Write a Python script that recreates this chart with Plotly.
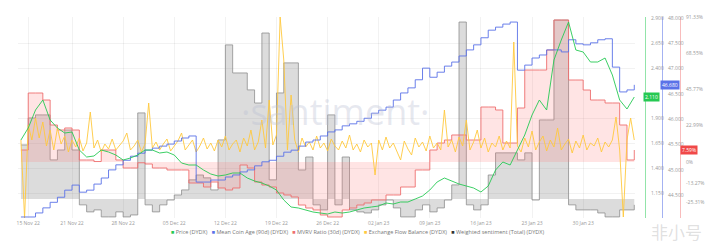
import pandas as pd
import plotly.graph_objects as go

# ---------------- data ----------------
days = pd.date_range("2022-11-14", periods=85, freq="D")
half_days = pd.date_range("2022-11-14", periods=169, freq="12h")

price = [1.68, 1.80, 1.98, 2.08, 1.88, 1.80, 1.75, 1.76, 1.58, 1.51,
         1.52, 1.58, 1.56, 1.53, 1.48, 1.50, 1.53, 1.58, 1.58, 1.55,
         1.56, 1.53, 1.45, 1.43, 1.43, 1.38, 1.34, 1.32, 1.33, 1.35,
         1.35, 1.30, 1.27, 1.25, 1.22, 1.18, 1.08, 1.01, 1.00, 0.98,
         0.96, 0.95, 0.94, 0.96, 0.95, 0.96, 0.98, 1.00, 1.01, 1.02,
         1.05, 1.04, 1.06, 1.06, 1.09, 1.12, 1.18, 1.26, 1.30, 1.27,
         1.24, 1.22, 1.20, 1.16, 1.22, 1.38, 1.46, 1.43, 1.58, 1.73,
         1.93, 2.08, 1.98, 2.48, 2.68, 2.86, 2.58, 2.56, 2.46, 2.46,
         2.50, 2.33, 2.08, 1.99, 2.11]

coin_age = [44.07, 44.07, 44.15, 44.25, 44.36, 44.46, 44.60, 44.70, 44.56, 44.60,
            44.72, 44.84, 45.00, 45.10, 45.19, 45.27, 45.33, 45.39, 45.43, 45.47,
            45.51, 45.57, 45.63, 45.67, 44.76, 44.76, 44.80, 44.80, 44.86, 44.90,
            44.96, 45.00, 45.08, 45.16, 45.19, 45.27, 45.35, 45.39, 45.47, 45.55,
            45.59, 45.67, 45.75, 45.79, 45.87, 45.91, 45.96, 46.02, 46.12, 46.18,
            46.24, 46.38, 46.52, 46.62, 46.78, 47.01, 46.83, 46.93, 47.05, 47.13,
            47.25, 47.37, 47.47, 47.61, 47.76, 47.82, 47.88, 47.92, 46.97, 47.07,
            47.21, 47.27, 47.37, 47.37, 47.33, 47.57, 47.49, 47.47, 47.51, 47.57,
            47.59, 47.03, 46.54, 46.58, 46.68]

mvrv = [7.59, 43.66, 43.66, 39.23, 23.41, 20.25, 21.52, 20.25, 1.27, 1.27,
        0.30, 7.59, 7.59, 1.27, -3.80, -3.80, -0.50, -1.27, -3.80, -3.80,
        -5.06, -5.06, -5.06, -13.29, -13.29, -15.82, -12.66, -16.45, -17.72, -16.45,
        -1.90, -3.80, -12.66, -14.55, -15.82, -19.62, -20.88, -22.15, -27.21, -29.11,
        -30.37, -33.54, -34.80, -34.80, -30.37, -29.11, -27.21, -25.94, -24.05, -24.05,
        -20.88, -20.88, -15.82, -15.82, -5.06, -5.06, 7.59, 12.02, 13.92, 17.09,
        17.09, 13.92, 13.92, 34.80, 34.80, 32.91, 12.02, 12.02, 34.17, 58.22,
        58.22, 58.22, 70.87, 89.86, 89.86, 51.89, 51.89, 45.56, 39.23, 39.23,
        37.34, 37.34, 23.41, 1.27, 7.59]

sentiment = [3.00, 4.50, 4.67, 4.67, 2.17, 2.72, 3.83, 2.72, -0.33, -0.72,
             -0.61, -1.00, -1.00, -0.72, -1.00, -0.89, 4.78, -0.33, -0.72, -0.33,
             -0.06, 0.22, 0.50, 1.06, 1.33, 1.17, 0.50, 3.28, 8.56, 7.00,
             7.00, 6.06, 5.33, 9.22, 1.06, 5.89, 7.56, 7.56, 1.61, 2.33,
             -0.33, -0.61, 4.67, -0.33, 2.33, -0.61, -0.72, -0.78, -0.61, -0.33,
             -0.06, -0.50, -1.00, -1.00, -0.61, -0.33, -0.72, -0.50, -0.06, 0.78,
             9.83, -0.33, -0.61, -0.33, 1.33, 2.56, 2.56, 2.56, 2.17, 2.56,
             -0.06, 4.39, 4.39, 9.94, 9.94, -0.33, -0.61, -0.61, -0.61, -0.78,
             -1.00, -1.00, -0.61, -0.61, -0.33]

# exchange flow balance, thousand DYDX, every 12 hours
flow = [60, -720, 210, 60, 280, 80, 240, 0, 160, -40,
        180, 20, 100, -60, 60, -10, 80, -50, 30, 340,
        -20, 60, -60, 20, -30, 70, -40, 10, 50, 130,
        -40, 0, 60, -60, 20, 430, -20, 40, -40, 20,
        70, -50, 0, 50, 130, -40, 10, 60, -60, 0,
        80, -30, 30, -50, 60, -10, 100, -40, 20, 60,
        -60, 80, 0, 160, -40, 40, 260, -20, 460, 10,
        110, 1290, 860, -40, 510, 60, -60, 80, -10, 40,
        -40, 100, -20, 30, -50, 70, 0, -40, 50, -20,
        110, -40, 20, -60, 60, -10, 30, -290, 60, -40,
        90, -20, 30, -60, -140, 50, -30, -90, 80, -10,
        40, -50, 100, -20, 30, -40, 360, -10, 60, -60,
        90, 0, 260, -40, 40, 160, -20, 80, -60, 30,
        -10, 100, -40, 50, -20, 1040, 0, -60, 80, -10,
        150, -40, 40, 100, -50, 60, -10, 180, -40, 20,
        70, -70, 50, -20, 110, -40, 30, 0, 80, -60,
        40, -10, 60, 290, -40, -710, 60, 280, 60]

tick_dates = ["2022-11-15", "2022-11-21", "2022-11-28", "2022-12-05", "2022-12-12",
              "2022-12-19", "2022-12-26", "2023-01-02", "2023-01-09", "2023-01-16",
              "2023-01-23", "2023-01-30"]
tick_labels = ["15 Nov 22", "21 Nov 22", "28 Nov 22", "05 Dec 22", "12 Dec 22",
               "19 Dec 22", "26 Dec 22", "02 Jan 23", "09 Jan 23", "16 Jan 23",
               "23 Jan 23", "30 Jan 23"]

price_ticks = [1.15, 1.40, 1.65, 1.90, 2.40, 2.65, 2.90]
age_ticks = [44.5, 45.0, 45.5, 46.0, 46.5, 47.0, 47.5, 48.0]
mvrv_ticks = [91.33, 68.55, 45.77, 22.99, 0, -13.27, -25.31]

series_names = ["Price (DYDX)", "Mean Coin Age (90d) (DYDX)", "MVRV Ratio (30d) (DYDX)",
                "Exchange Flow Balance (DYDX)", "Weighted sentiment (Total) (DYDX)"]

# ---------------- style ----------------
C_PRICE = "#26c953"
C_AGE = "#5a72e8"
C_MVRV = "#ee6f6f"
C_FLOW = "#ffc83d"
C_SENT = "#8e8e8e"
FONT = "Open Sans"

fig = go.Figure()

fig.add_trace(go.Scatter(x=days, y=sentiment, yaxis="y", mode="lines", line_shape="hv",
                         line=dict(color=C_SENT, width=0.8), fill="tozeroy",
                         fillcolor="rgba(130,130,130,0.28)", name=series_names[4], showlegend=False))
fig.add_trace(go.Scatter(x=days, y=mvrv, yaxis="y2", mode="lines", line_shape="hv",
                         line=dict(color=C_MVRV, width=0.9), fill="tozeroy",
                         fillcolor="rgba(255,120,120,0.20)", name=series_names[2], showlegend=False))
fig.add_trace(go.Scatter(x=half_days, y=flow, yaxis="y3", mode="lines",
                         line=dict(color=C_FLOW, width=0.9), name=series_names[3], showlegend=False))
fig.add_trace(go.Scatter(x=days, y=coin_age, yaxis="y4", mode="lines", line_shape="hv",
                         line=dict(color=C_AGE, width=0.9), name=series_names[1], showlegend=False))
fig.add_trace(go.Scatter(x=days, y=price, yaxis="y5", mode="lines",
                         line=dict(color=C_PRICE, width=0.9), name=series_names[0], showlegend=False))

W, H = 718, 245
L_PX, R_PX, T_PX, B_PX = 18, 635, 17, 218
x_dom = [L_PX / W, R_PX / W]

tickfont = dict(family=FONT, size=5, color="#9a9a9a")

fig.update_layout(
    width=W, height=H,
    margin=dict(l=0, r=0, t=T_PX, b=H - B_PX),
    paper_bgcolor="white", plot_bgcolor="white",
    showlegend=False,
    font=dict(family=FONT),
    xaxis=dict(domain=x_dom, type="date",
               range=["2022-11-13 14:24", "2023-02-06 02:24"],
               tickvals=tick_dates, ticktext=tick_labels, tickfont=tickfont,
               ticks="", showgrid=True, gridcolor="rgba(0,0,0,0.05)", gridwidth=1,
               showline=False, zeroline=False, ticklabelstandoff=1),
    yaxis=dict(range=[-1.06, 10.11], visible=False, showgrid=False, zeroline=False),
    yaxis2=dict(range=[-35.44, 91.76], overlaying="y", side="right", anchor="free",
                position=680 / W, showline=True, linecolor="rgba(240,106,106,0.45)", linewidth=1,
                tickvals=mvrv_ticks, ticktext=[f"{v:g}%" if v == 0 else f"{v:.2f}%" for v in mvrv_ticks],
                tickfont=tickfont, ticks="", showgrid=False, zeroline=False, ticklabelstandoff=4),
    yaxis3=dict(range=[-720, 1290], overlaying="y", visible=False, showgrid=False, zeroline=False),
    yaxis4=dict(range=[44.05, 48.02], overlaying="y", side="right", anchor="free",
                position=662 / W, showline=True, linecolor="rgba(90,114,232,0.55)", linewidth=1,
                tickvals=age_ticks, ticktext=[f"{v:.3f}" for v in age_ticks],
                tickfont=tickfont, ticks="", showgrid=False, zeroline=False, ticklabelstandoff=4),
    yaxis5=dict(range=[0.90, 2.91], overlaying="y", side="right", anchor="free",
                position=645 / W, showline=True, linecolor="rgba(38,201,83,0.5)", linewidth=1,
                tickvals=price_ticks, ticktext=[f"{v:.3f}" for v in price_ticks],
                tickfont=tickfont, ticks="", showgrid=True, gridcolor="rgba(0,0,0,0.05)",
                zeroline=False, ticklabelstandoff=4),
)

# last-value badges on the axes
badge_font = dict(family=FONT, size=5, color="white")
fig.add_annotation(x=651 / W, xref="paper", xanchor="center", y=price[-1], yref="y5",
                   text=f"{price[-1]:.3f}", showarrow=False, bgcolor=C_PRICE, font=badge_font, borderpad=1)
fig.add_annotation(x=670 / W, xref="paper", xanchor="center", y=coin_age[-1], yref="y4",
                   text=f"{coin_age[-1]:.3f}", showarrow=False, bgcolor=C_AGE, font=badge_font, borderpad=1)
fig.add_annotation(x=689 / W, xref="paper", xanchor="center", y=mvrv[-1], yref="y2",
                   text=f"{mvrv[-1]:.2f}%", showarrow=False, bgcolor="#f04848", font=badge_font, borderpad=1)

# watermark
fig.add_annotation(x=335 / W, xref="paper", xanchor="center", y=(B_PX - 112) / (B_PX - T_PX), yref="paper",
                   text="·santiment·", showarrow=False,
                   font=dict(family=FONT, size=36, color="rgba(185,190,210,0.35)"))

# legend built as text
colors = [C_PRICE, C_AGE, C_MVRV, C_FLOW, "#333333"]
parts = [f"<span style='color:{c}'>■</span> {n}" for c, n in zip(colors, series_names)]
fig.add_annotation(x=357 / W, xref="paper", xanchor="center", y=-(238 - B_PX) / (B_PX - T_PX), yref="paper",
                   text="&nbsp;&nbsp;&nbsp;".join(parts), showarrow=False,
                   font=dict(family=FONT, size=5.5, color="#777777"))

# bottom-right site watermark
fig.add_annotation(x=676 / W, xref="paper", xanchor="center", y=-(232 - B_PX) / (B_PX - T_PX),
                   yref="paper", yanchor="middle", text="非小号", showarrow=False,
                   font=dict(family="Noto Sans CJK SC", size=17, color="rgba(150,150,150,0.30)"))

fig.write_html("out.html")
